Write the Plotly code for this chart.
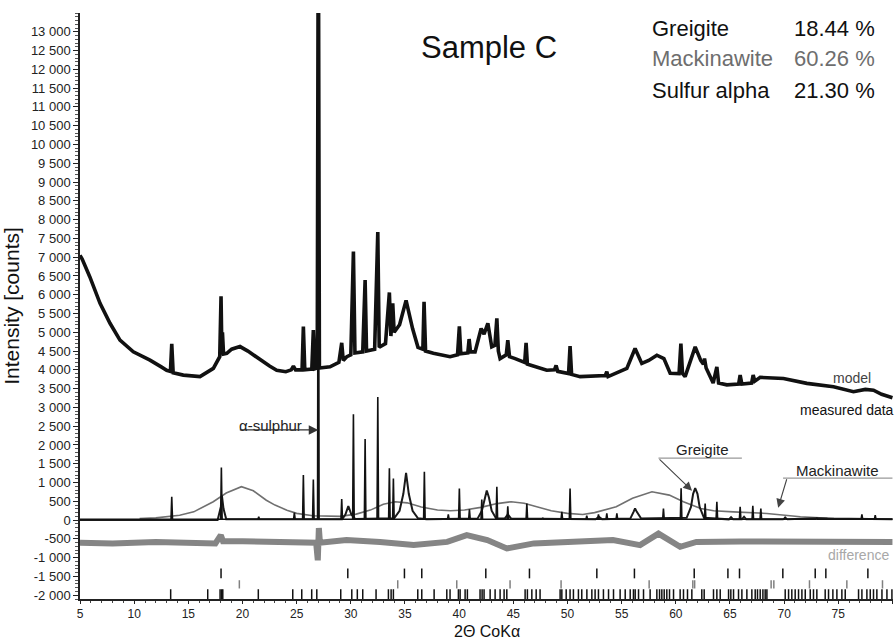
import plotly.graph_objects as go

# ---------------- data ----------------
# measured pattern (upper curve)
meas_x = [5.0, 5.2, 5.9, 6.85, 7.77, 8.69, 9.92, 11.46, 12.5, 13.0, 13.35, 13.47, 13.6, 14.54, 16.08, 17.31, 17.9, 18.02, 18.1, 18.15, 18.25,
          18.55, 19.0, 19.77, 20.5, 21.62, 22.5, 23.16, 24.0, 24.5, 24.7, 24.9, 25.5, 25.62, 25.75, 26.4, 26.54, 26.68, 26.9, 27.0, 27.1,
          28.08, 28.9, 29.16, 29.3, 29.63, 30.0, 30.24, 30.38, 31.1, 31.32, 31.45, 32.2, 32.49, 32.62, 33.2, 33.56, 33.7, 33.87, 34.0,
          34.5, 35.1, 35.7, 36.2, 36.65, 36.76, 36.9, 37.62, 39.16, 39.85, 40.02, 40.15, 40.8, 40.92, 41.05, 41.47, 42.03, 42.3, 42.65,
          43.01, 43.3, 43.48, 43.62, 43.78, 44.35, 44.49, 44.65, 45.17, 46.05, 46.18, 46.3, 46.55, 48.09, 48.8, 48.95, 49.1, 50.1, 50.24,
          50.38, 51.17, 52.5, 53.5, 53.63, 53.75, 55.48, 56.24, 56.86, 57.5, 58.25, 58.9, 59.48, 60.3, 60.47, 60.62, 60.86, 61.3, 61.79,
          62.3, 62.55, 62.65, 62.8, 63.45, 63.79, 63.95, 64.71, 65.8, 65.94, 66.1, 67.0, 67.14, 67.3, 67.79, 69.94, 72.1, 74.56, 76.4,
          77.5, 78.25, 79.0, 80.0]
meas_y = [7050, 6950, 6480, 5770, 5240, 4790, 4480, 4260, 4080, 3990, 3960, 4690, 3920, 3860, 3820, 4040, 4350, 5960, 4400, 5000, 4420,
          4440, 4550, 4620, 4500, 4260, 4100, 3990, 3950, 4000, 4100, 4000, 4000, 5150, 4000, 4020, 5060, 4030, 4050, 17000, 4050,
          4080, 4200, 4720, 4250, 4350, 4400, 7150, 4450, 4480, 6390, 4500, 4550, 7670, 4600, 4700, 6060, 4900, 5770, 5000,
          5200, 5850, 5100, 4600, 4550, 5810, 4500, 4440, 4350, 4400, 5160, 4430, 4450, 4820, 4480, 4480, 5100, 4950, 5240,
          4610, 4650, 5370, 4500, 4300, 4400, 4790, 4350, 4300, 4200, 4720, 4150, 4130, 3990, 4000, 4120, 3960, 3900, 4630,
          3880, 3820, 3830, 3850, 3950, 3820, 4040, 4570, 4170, 4250, 4390, 4300, 3910, 3900, 4700, 3900, 3820, 4200, 4610,
          4250, 4150, 4300, 4050, 3650, 4080, 3650, 3600, 3620, 3860, 3620, 3650, 3860, 3700, 3800, 3770, 3640, 3550, 3420,
          3480, 3460, 3350, 3260]

# alpha-sulphur component: peak positions and heights
sulfur_pos = [13.47, 18.05, 21.5, 24.79, 25.62, 26.54, 27.0, 29.16, 30.24, 31.32, 32.49, 33.56, 33.93, 36.79, 39.0, 40.02, 40.95,
              42.09, 43.48, 44.49, 46.25, 47.72, 49.48, 50.24, 51.78, 52.86, 53.63, 54.56, 58.86, 60.49, 62.71, 63.79, 65.94,
              67.11, 67.85, 70.1, 73.02, 77.18, 78.41]
sulfur_h = [620, 1400, 90, 200, 1200, 1080, 14000, 560, 2820, 2160, 3280, 1380, 1110, 1290, 150, 840, 290,
            550, 890, 370, 440, 60, 220, 840, 120, 150, 180, 180, 310, 850, 440, 490, 355,
            380, 310, 90, 60, 150, 130]

# greigite component
greig_x = [5, 17.7, 18.0, 18.1, 18.25, 18.5, 29.2, 29.5, 29.77, 30.05, 30.4, 34.0, 34.5, 34.85, 35.1, 35.35, 35.7, 36.2, 37.0,
           41.7, 42.1, 42.35, 42.55, 42.75, 43.0, 43.4, 44.2, 44.5, 44.8, 52.6, 52.9, 53.2, 55.8, 56.1, 56.24, 56.4, 56.8,
           61.0, 61.4, 61.6, 61.79, 62.0, 62.2, 62.6, 64.9, 65.1, 65.3, 66.1, 66.3, 66.5, 69.9, 70.1, 70.3, 73.0, 74.0, 80]
greig_y = [0, 0, 350, 650, 300, 20, 20, 150, 375, 150, 30, 50, 250, 700, 1260, 700, 250, 50, 20,
           40, 250, 600, 790, 600, 250, 50, 40, 150, 40, 20, 90, 20, 40, 220, 310, 220, 40,
           60, 350, 700, 850, 700, 350, 60, 20, 80, 20, 20, 90, 20, 20, 60, 20, 50, 40, 20]

# mackinawite component (broad)
mack_x = [10.5, 12.0, 14.2, 15.5, 17.3, 18.5, 19.9, 21.0, 22.2, 23.0, 24.1, 25.0, 26.5, 28.0, 29.0, 30.5, 31.8, 33.0, 34.1, 35.2,
          36.5, 38.0, 39.2, 40.5, 42.0, 43.5, 44.8, 46.0, 47.0, 48.5, 50.0, 51.4, 52.5, 53.5, 54.5, 56.0, 57.8, 59.4, 60.7, 62.3,
          63.5, 65.3, 68.4, 71.5, 74.6, 80.0]
mack_y = [40, 60, 130, 220, 490, 720, 890, 780, 530, 400, 265, 180, 115, 95, 100, 160, 266, 420, 488, 460,
          350, 270, 248, 270, 340, 440, 490, 450, 370, 250, 180, 150, 200, 280, 355, 580, 755, 665, 490, 310,
          250, 220, 178, 90, 45, 30]

# difference curve
diff_x = [5, 8, 12, 15, 17.5, 18.0, 18.2, 20, 23.5, 26.8, 26.95, 27.05, 27.15, 29.6, 32.7, 35.8, 38.9, 40.7, 42.6, 44.4, 46.9,
          51.2, 54.2, 56.7, 58.4, 60.4, 61.9, 66, 70, 75, 80]
diff_y = [-600, -620, -580, -600, -620, -400, -560, -560, -580, -600, -1070, -210, -600, -530, -580, -665, -580, -400, -530, -755,
          -620, -580, -530, -665, -360, -710, -580, -570, -580, -575, -580]

# reflection positions
greigite_refl = [18.02, 29.72, 34.95, 36.55, 42.46, 46.49, 52.71, 56.18, 61.7, 64.81, 65.88, 69.88, 72.87, 73.85, 77.73]
mackinawite_refl = [19.71, 34.33, 39.78, 44.7, 49.41, 57.54, 61.57, 61.74, 68.8, 69.05, 72.34, 75.79, 79.08]
sulfur_refl = [13.37, 16.79, 17.93, 18.07, 18.18, 21.46, 24.64, 25.47, 26.39, 26.86, 29.07, 30.09, 30.6, 31.1, 32.33, 33.47,
               33.72, 33.93, 36.18, 36.55, 37.69, 38.86, 39.16, 39.93, 40.09, 40.55, 40.76, 41.93, 42.12, 42.3, 42.86, 43.32,
               43.78, 44.15, 44.4, 46.09, 46.3, 46.71, 47.11, 47.47, 49.32, 49.48, 49.88, 50.24, 50.55, 51.01, 51.32, 51.79,
               52.25, 52.55, 52.86, 53.32, 53.79, 54.25, 54.86, 55.33, 55.79, 56.09, 56.25, 56.56, 57.02, 57.63, 58.25, 58.5,
               58.71, 58.93, 59.17, 59.42, 59.79, 60.4, 60.71, 61.08, 61.48, 62.4, 62.62, 63.48, 63.79, 64.1, 64.87, 65.08,
               65.33, 65.79, 66.1, 66.56, 67.02, 67.33, 67.54, 67.79, 68.04, 68.25, 68.41, 70.1, 70.41, 70.71, 71.02, 71.33,
               71.64, 71.95, 72.41, 72.71, 73.02, 73.79, 74.1, 74.5, 74.87, 75.33, 75.64, 76.87, 77.18, 77.64, 77.95, 78.25,
               78.56, 79.03, 79.49, 79.95]

# axis ticks
y_tickvals = [-2000, -1500, -1000, -500, 0, 500, 1000, 1500, 2000, 2500, 3000, 3500, 4000, 4500, 5000, 5500, 6000, 6500,
              7000, 7500, 8000, 8500, 9000, 9500, 10000, 10500, 11000, 11500, 12000, 12500, 13000]
y_ticktext = ["-2 000", "-1 500", "-1 000", "-500", "0", "500", "1 000", "1 500", "2 000", "2 500", "3 000", "3 500",
              "4 000", "4 500", "5 000", "5 500", "6 000", "6 500", "7 000", "7 500", "8 000", "8 500", "9 000", "9 500",
              "10 000", "10 500", "11 000", "11 500", "12 000", "12 500", "13 000"]
x_tickvals = [5, 10, 15, 20, 25, 30, 35, 40, 45, 50, 55, 60, 65, 70, 75, 80]

phases = ["Greigite", "Mackinawite", "Sulfur alpha"]
fractions = ["18.44 %", "60.26 %", "21.30 %"]
phase_colors = ["#111111", "#6e6e6e", "#111111"]

# ---------------- building ----------------
FONT = "Liberation Sans, Arial, sans-serif"

def spike_path(pos, h, base=25, hw=0.07):
    xs, ys = [5.0], [base]
    for p, v in sorted(zip(pos, h)):
        xs += [p - hw, p, p + hw]
        ys += [base, v, base]
    xs.append(80.0)
    ys.append(base)
    return xs, ys

def tick_rows(pos, lo, hi):
    xs, ys = [], []
    for p in pos:
        xs += [p, p, None]
        ys += [lo, hi, None]
    return xs, ys

fig = go.Figure()

fig.add_trace(go.Scatter(x=mack_x, y=mack_y, mode="lines", line=dict(color="#707070", width=1.6), hoverinfo="skip"))
fig.add_trace(go.Scatter(x=greig_x, y=greig_y, mode="lines", line=dict(color="#1a1a1a", width=2.0), hoverinfo="skip"))
sx, sy = spike_path(sulfur_pos, sulfur_h)
fig.add_trace(go.Scatter(x=sx, y=sy, mode="lines", line=dict(color="#111111", width=1.6), hoverinfo="skip"))
fig.add_trace(go.Scatter(x=diff_x, y=diff_y, mode="lines", line=dict(color="#858585", width=6), hoverinfo="skip"))
fig.add_trace(go.Scatter(x=meas_x, y=meas_y, mode="lines", line=dict(color="#111111", width=3.6), hoverinfo="skip"))

gx, gy = tick_rows(greigite_refl, -1550, -1290)
fig.add_trace(go.Scatter(x=gx, y=gy, mode="lines", line=dict(color="#111111", width=1.5), hoverinfo="skip"))
mx, my = tick_rows(mackinawite_refl, -1820, -1600)
fig.add_trace(go.Scatter(x=mx, y=my, mode="lines", line=dict(color="#808080", width=1.5), hoverinfo="skip"))
rx, ry = tick_rows(sulfur_refl, -2100, -1840)
fig.add_trace(go.Scatter(x=rx, y=ry, mode="lines", line=dict(color="#111111", width=1.5), hoverinfo="skip"))

ann = []
ann.append(dict(x=42.8, y=12580, xref="x", yref="y", text="Sample C", showarrow=False,
                font=dict(size=31, color="#111111", family=FONT), xanchor="center", yanchor="middle"))
rows_y = [13100, 12280, 11450]
for name, frac, col, yy in zip(phases, fractions, phase_colors, rows_y):
    ann.append(dict(x=57.63, y=yy, xref="x", yref="y", text=name, showarrow=False,
                    font=dict(size=22, color=col, family=FONT), xanchor="left", yanchor="middle"))
    ann.append(dict(x=78.6, y=yy, xref="x", yref="y", text=frac, showarrow=False,
                    font=dict(size=22, color=col, family=FONT), xanchor="right", yanchor="middle"))

ann.append(dict(x=74.3, y=3780, xref="x", yref="y", text="model", showarrow=False,
                font=dict(size=14, color="#444444", family=FONT), xanchor="left", yanchor="middle"))
ann.append(dict(x=71.3, y=2928, xref="x", yref="y", text="measured data", showarrow=False,
                font=dict(size=14, color="#111111", family=FONT), xanchor="left", yanchor="middle"))
ann.append(dict(x=73.9, y=-930, xref="x", yref="y", text="difference", showarrow=False,
                font=dict(size=14, color="#a8a8a8", family=FONT), xanchor="left", yanchor="middle"))
ann.append(dict(x=19.5, y=2520, xref="x", yref="y", text="α-sulphur", showarrow=False,
                font=dict(size=15, color="#222222", family=FONT), xanchor="left", yanchor="middle"))
ann.append(dict(x=27.0, y=2400, xref="x", yref="y", ax=-80, ay=0, text="", showarrow=True,
                arrowhead=2, arrowsize=1.6, arrowwidth=1.2, arrowcolor="#333333"))
ann.append(dict(x=62.45, y=1880, xref="x", yref="y", text="Greigite", showarrow=False,
                font=dict(size=15, color="#222222", family=FONT), xanchor="center", yanchor="middle"))
ann.append(dict(x=61.5, y=780, xref="x", yref="y", ax=-34, ay=-33, text="", showarrow=True,
                arrowhead=2, arrowsize=1.6, arrowwidth=1.1, arrowcolor="#444444"))
ann.append(dict(x=74.9, y=1320, xref="x", yref="y", text="Mackinawite", showarrow=False,
                font=dict(size=15, color="#222222", family=FONT), xanchor="center", yanchor="middle"))
ann.append(dict(x=69.45, y=330, xref="x", yref="y", ax=9, ay=-30, text="", showarrow=True,
                arrowhead=2, arrowsize=1.6, arrowwidth=1.1, arrowcolor="#444444"))
# x-axis title
ann.append(dict(x=0.5, y=-0.0715, xref="paper", yref="paper", text="2Θ CoKα", showarrow=False, borderpad=0,
                font=dict(size=16, color="#111111", family=FONT), xanchor="center", yanchor="bottom"))

shapes = [
    dict(type="line", xref="x", yref="y", x0=58.4, x1=66.1, y0=1650, y1=1650, line=dict(color="#999999", width=1.2)),
    dict(type="line", xref="x", yref="y", x0=69.9, x1=80.0, y0=1120, y1=1120, line=dict(color="#999999", width=1.2)),
]

fig.update_layout(
    width=895, height=641,
    margin=dict(l=80, r=2, t=13, b=42),
    paper_bgcolor="white", plot_bgcolor="white",
    showlegend=False,
    font=dict(family=FONT, size=13, color="#222222"),
    annotations=ann, shapes=shapes,
    xaxis=dict(range=[5, 80.05], tickvals=x_tickvals, ticks="outside", ticklen=3, tickwidth=1.2, tickcolor="#222",
               showline=True, linecolor="#222", linewidth=1.5, showgrid=False, zeroline=False, automargin=False,
               minor=dict(dtick=1, ticks="outside", ticklen=2, tickcolor="#444", showgrid=False),
               tickfont=dict(size=12, family=FONT)),
    yaxis=dict(range=[-2100, 13500], tickvals=y_tickvals, ticktext=y_ticktext, ticks="outside", ticklen=5,
               tickwidth=1.2, tickcolor="#222", showline=True, linecolor="#222", linewidth=1.5, showgrid=False,
               zeroline=False, automargin=False,
               minor=dict(dtick=100, ticks="outside", ticklen=3, tickcolor="#555", showgrid=False),
               tickfont=dict(size=13, family=FONT),
               title=dict(text="Intensity [counts]", font=dict(size=21, family=FONT, color="#111"), standoff=6)),
)

fig.write_html("out.html", config={"displayModeBar": False},
               post_script="document.body.style.margin='0px';document.body.style.overflow='hidden';")
